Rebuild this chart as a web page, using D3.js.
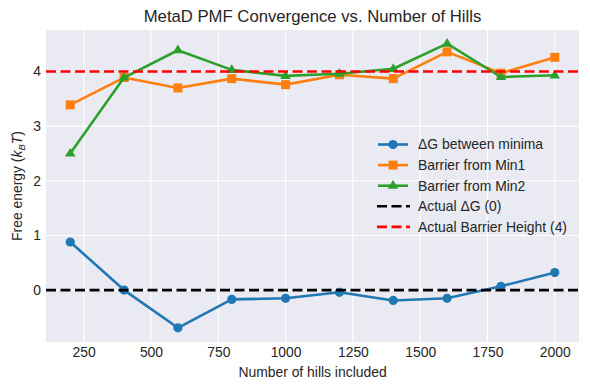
<!DOCTYPE html>
<html>
<head>
<meta charset="utf-8">
<script src="https://cdn.jsdelivr.net/npm/d3@7"></script>
<style>
  body { margin: 0; background: #ffffff; }
  svg { display: block; font-family: "Liberation Sans", Arial, sans-serif; }
</style>
</head>
<body>
<svg id="chart" width="590" height="390"></svg>
<script>
const hills = [200, 400, 600, 800, 1000, 1200, 1400, 1600, 1800, 2000];
const deltaG = [0.88, 0.00, -0.69, -0.17, -0.15, -0.04, -0.19, -0.15, 0.07, 0.32];
const barrierMin1 = [3.39, 3.89, 3.70, 3.87, 3.76, 3.94, 3.87, 4.36, 3.97, 4.26];
const barrierMin2 = [2.50, 3.89, 4.39, 4.03, 3.92, 3.96, 4.05, 4.51, 3.90, 3.93];
const xTicks = [250, 500, 750, 1000, 1250, 1500, 1750, 2000];
const yTicks = [0, 1, 2, 3, 4];
const actualDeltaG = 0;
const actualBarrier = 4;
const seriesNames = ["ΔG between minima", "Barrier from Min1", "Barrier from Min2"];
const refNames = ["Actual ΔG (0)", "Actual Barrier Height (4)"];

const svg = d3.select("#chart");
const W = 590, H = 390;
const m = { left: 46, right: 11, top: 30, bottom: 48 };
const pw = W - m.left - m.right, ph = H - m.top - m.bottom;

const x = d3.scaleLinear().domain([110, 2090]).range([m.left, m.left + pw]);
const y = d3.scaleLinear().domain([-0.95, 4.76]).range([m.top + ph, m.top]);

const textColor = "#262626";
const fs = "13.9px";

// background
svg.append("rect").attr("x", m.left).attr("y", m.top).attr("width", pw).attr("height", ph).attr("fill", "#eaeaf2");

// grid
const g = svg.append("g");
g.selectAll(".vg").data(xTicks).join("line")
  .attr("x1", d => x(d)).attr("x2", d => x(d))
  .attr("y1", m.top).attr("y2", m.top + ph)
  .attr("stroke", "#fff").attr("stroke-width", 1.1);
g.selectAll(".hg").data(yTicks).join("line")
  .attr("x1", m.left).attr("x2", m.left + pw)
  .attr("y1", d => y(d)).attr("y2", d => y(d))
  .attr("stroke", "#fff").attr("stroke-width", 1.1);

// axes (labels only)
const xAxis = svg.append("g").attr("transform", `translate(0,${m.top + ph})`)
  .call(d3.axisBottom(x).tickValues(xTicks).tickSize(0).tickPadding(5).tickFormat(d3.format("d")));
xAxis.select(".domain").remove();
xAxis.selectAll("text").attr("fill", textColor).style("font-size", fs).style("font-family", "Liberation Sans, Arial, sans-serif");

const yAxis = svg.append("g").attr("transform", `translate(${m.left},0)`)
  .call(d3.axisLeft(y).tickValues(yTicks).tickSize(0).tickPadding(5).tickFormat(d3.format("d")));
yAxis.select(".domain").remove();
yAxis.selectAll("text").attr("fill", textColor).style("font-size", fs).style("font-family", "Liberation Sans, Arial, sans-serif");

// series
const colors = ["#1f77b4", "#ff7f0e", "#2ca02c"];
const datasets = [deltaG, barrierMin1, barrierMin2];
const lineGen = d3.line().x((d, i) => x(hills[i])).y(d => y(d));

const plot = svg.append("g");

function drawMarker(sel, type, color, cx, cy) {
  if (type === 0) {
    sel.append("circle").attr("cx", cx).attr("cy", cy).attr("r", 4.6).attr("fill", color);
  } else if (type === 1) {
    const s = 9;
    sel.append("rect").attr("x", cx - s / 2).attr("y", cy - s / 2).attr("width", s).attr("height", s).attr("fill", color);
  } else {
    const r = 5.6;
    const pts = [[cx, cy - r], [cx + r * 0.95, cy + r * 0.55], [cx - r * 0.95, cy + r * 0.55]];
    sel.append("path").attr("d", "M" + pts.map(p => p.join(",")).join("L") + "Z").attr("fill", color);
  }
}

datasets.forEach((data, k) => {
  plot.append("path").datum(data).attr("d", lineGen)
    .attr("fill", "none").attr("stroke", colors[k]).attr("stroke-width", 2.6)
    .attr("stroke-linejoin", "round").attr("stroke-linecap", "square");
  const mg = plot.append("g");
  data.forEach((v, i) => drawMarker(mg, k, colors[k], x(hills[i]), y(v)));
});

// reference lines
const refs = [[actualDeltaG, "#000000"], [actualBarrier, "#ff0000"]];
refs.forEach(([v, c]) => {
  plot.append("line").attr("x1", m.left).attr("x2", m.left + pw)
    .attr("y1", y(v)).attr("y2", y(v))
    .attr("stroke", c).attr("stroke-width", 2.6).attr("stroke-dasharray", "10,4.5");
});

// title and axis labels
svg.append("text").attr("x", m.left + pw / 2).attr("y", 22).attr("text-anchor", "middle")
  .attr("fill", textColor).style("font-size", "16.7px").text("MetaD PMF Convergence vs. Number of Hills");
svg.append("text").attr("x", m.left + pw / 2).attr("y", 377).attr("text-anchor", "middle")
  .attr("fill", textColor).style("font-size", fs).text("Number of hills included");
const yl = svg.append("text").attr("transform", `translate(22,${m.top + ph / 2}) rotate(-90)`)
  .attr("text-anchor", "middle").attr("fill", textColor).style("font-size", fs);
yl.append("tspan").text("Free energy (");
yl.append("tspan").style("font-style", "italic").text("k");
yl.append("tspan").style("font-style", "italic").style("font-size", "9.5px").attr("dy", 3).text("B");
yl.append("tspan").style("font-style", "italic").attr("dy", -3).text("T");
yl.append("tspan").text(")");

// legend
const legend = svg.append("g");
const ly0 = 144.5, lstep = 20.6, lx0 = 378, lx1 = 408, ltx = 418;
const legendItems = seriesNames.map((n, k) => ({ name: n, color: colors[k], marker: k, dash: null }))
  .concat(refNames.map((n, k) => ({ name: n, color: refs[k][1], marker: -1, dash: "10,4.5" })));
legendItems.forEach((it, i) => {
  const yy = ly0 + i * lstep;
  const ln = legend.append("line").attr("x1", lx0).attr("x2", lx1).attr("y1", yy).attr("y2", yy)
    .attr("stroke", it.color).attr("stroke-width", 2.6);
  if (it.dash) ln.attr("stroke-dasharray", "10,4.5").attr("x1", lx0 - 1).attr("x2", lx1 + 2);
  if (it.marker >= 0) drawMarker(legend, it.marker, it.color, (lx0 + lx1) / 2, yy);
  legend.append("text").attr("x", ltx).attr("y", yy).attr("dy", "0.35em")
    .attr("fill", textColor).style("font-size", fs).text(it.name);
});
</script>
</body>
</html>
